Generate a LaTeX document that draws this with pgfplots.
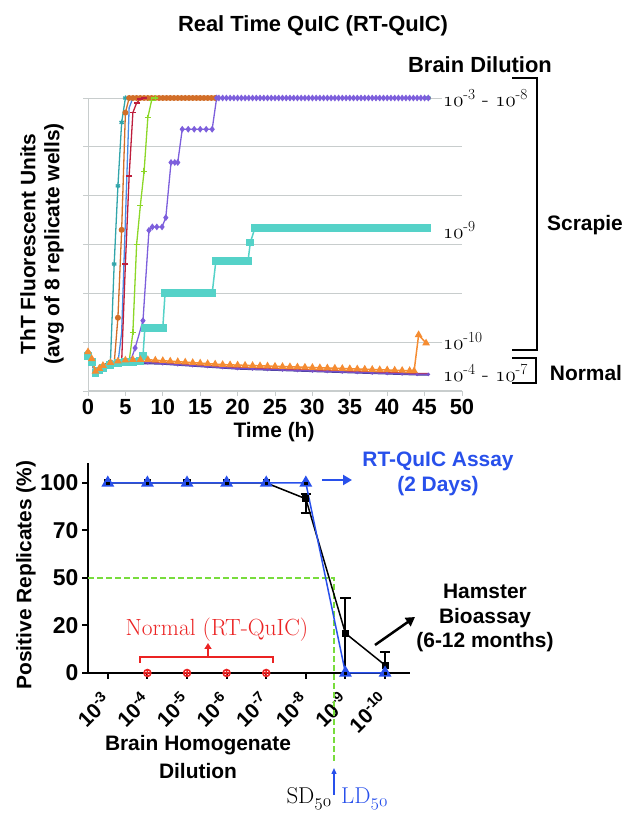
\documentclass[border=0pt]{standalone}
\usepackage{fontspec}
\setsansfont{Liberation Sans}
\usepackage{pgfplots}
\pgfplotsset{compat=1.18}
\usepackage{pgfplotstable}
\usetikzlibrary{arrows.meta}
\newcommand\osn[1]{{\usefont{OML}{cmm}{m}{it}#1}}
\definecolor{cteal}{RGB}{50,165,170}
\definecolor{cbrown}{RGB}{210,110,40}
\definecolor{cblue}{RGB}{70,140,230}
\definecolor{ccrim}{RGB}{190,30,60}
\definecolor{cgreen}{RGB}{140,215,40}
\definecolor{cpurp}{RGB}{125,95,220}
\definecolor{ccyan}{RGB}{85,210,200}
\definecolor{corange}{RGB}{245,140,50}
\definecolor{nnavy}{RGB}{60,60,150}
\definecolor{ngreen}{RGB}{100,170,60}
\definecolor{nred}{RGB}{190,50,70}
\definecolor{npurp}{RGB}{120,80,200}
\definecolor{rtblue}{RGB}{40,80,235}
\definecolor{dgreen}{RGB}{120,220,60}
\definecolor{nred2}{RGB}{235,35,35}
\definecolor{gridgray}{RGB}{200,205,205}

\pgfplotstableread{
t n1 n2 n3 n4
0 0.75 0.77 0.78 0.76
0.5 0.58 0.60 0.62 0.60
1 0.32 0.35 0.36 0.34
1.5 0.38 0.41 0.42 0.40
2 0.44 0.47 0.48 0.46
2.5 0.48 0.51 0.52 0.50
3 0.50 0.53 0.54 0.52
4 0.53 0.56 0.57 0.55
5 0.55 0.58 0.59 0.57
6 0.56 0.59 0.60 0.58
8 0.56 0.59 0.60 0.58
10 0.55 0.57 0.58 0.56
12 0.53 0.55 0.56 0.54
14 0.51 0.53 0.54 0.52
16 0.49 0.51 0.52 0.50
18 0.47 0.49 0.50 0.48
20 0.45 0.47 0.48 0.46
22 0.44 0.46 0.47 0.45
24 0.43 0.45 0.46 0.44
26 0.42 0.44 0.45 0.43
28 0.41 0.43 0.44 0.42
30 0.40 0.42 0.43 0.41
32 0.39 0.41 0.42 0.40
34 0.38 0.40 0.41 0.39
36 0.37 0.39 0.40 0.38
38 0.36 0.38 0.39 0.37
40 0.35 0.37 0.38 0.36
42 0.34 0.36 0.37 0.35
44 0.33 0.35 0.36 0.34
45.5 0.33 0.35 0.355 0.34
}\normals

\begin{document}
\begin{tikzpicture}
\path[use as bounding box] (0bp,0bp) rectangle (638bp,833bp);

% ================= TOP CHART =================
\begin{axis}[at={(88bp,442bp)}, anchor=south west, scale only axis,
  width=374bp, height=293bp, xmin=0, xmax=50, ymin=0, ymax=6,
  axis lines*=left, axis line style={gridgray, line width=1bp},
  xtick={0,5,...,50}, ytick={0,1,...,6}, yticklabels={},
  ymajorgrids, grid style={gridgray, line width=0.9bp},
  tick style={gridgray, line width=0.9bp}, major tick length=5bp, tick align=outside,
  xticklabel style={font=\sffamily\bfseries\fontsize{22}{22}\selectfont},
  /pgf/number format/assume math mode=true, clip=false]
% normal brain (10^-4 - 10^-7)
\addplot[nnavy, line width=1.3bp] table[x=t,y=n1] {\normals};
\addplot[ngreen, line width=1.3bp] table[x=t,y=n2] {\normals};
\addplot[nred, line width=1.3bp] table[x=t,y=n3] {\normals};
\addplot[npurp, line width=1.3bp, mark=*, mark size=1bp] table[x=t,y=n4] {\normals};
% 10^-3
\addplot[cteal, line width=1.3bp, mark=asterisk, mark size=2.5bp] coordinates {
(0,0.78)(0.5,0.62)(1,0.36)(1.5,0.42)(2,0.48)(2.5,0.53)(3,0.6)(3.5,2.6)(4,4.2)(4.5,5.5)(5,6)(45.5,6)};
% 10^-4
\addplot[cbrown, line width=1.3bp, mark=*, mark size=2.3bp] coordinates {
(0,0.78)(0.5,0.62)(1,0.36)(1.5,0.42)(2,0.48)(2.5,0.52)(3,0.54)(3.5,0.56)(4,1.5)(4.5,3.3)(5,5.7)(5.5,6)
(6,6)(6.5,6)(7,6)(7.5,6)(8,6)(8.5,6)(9,6)(9.5,6)(10,6)(10.5,6)(11,6)(11.5,6)(12,6)(12.5,6)(13,6)(13.5,6)
(14,6)(14.5,6)(15,6)(15.5,6)(16,6)(16.5,6)(17,6)};
% 10^-5
\addplot[cblue, line width=1.3bp] coordinates {
(0,0.78)(0.5,0.62)(1,0.36)(1.5,0.42)(2,0.48)(3,0.54)(4,0.57)(4.5,1.2)(5,3.5)(5.5,5.8)(6,6)(45.5,6)};
% 10^-6
\addplot[ccrim, line width=1.3bp, mark=-, mark size=3bp] coordinates {
(0,0.78)(0.5,0.62)(1,0.36)(1.5,0.42)(2,0.48)(3,0.54)(4,0.57)(4.5,0.6)(5,2.6)(5.5,4.4)(6,5.7)(6.5,5.9)(7,5.98)(7.5,6)(45.5,6)};
% 10^-7
\addplot[cgreen, line width=1.3bp, mark=+, mark size=3bp] coordinates {
(0,0.78)(0.5,0.62)(1,0.36)(1.5,0.42)(2,0.48)(3,0.54)(4,0.57)(5,0.59)(5.5,0.6)(6,1.2)(6.5,3.0)(7,3.8)(7.5,4.5)(8,5.6)(8.5,5.95)(9,6)(45.5,6)};
% 10^-8
\addplot[cpurp, line width=1.3bp, mark=diamond*, mark size=2.4bp] coordinates {
(0,0.78)(0.5,0.62)(1,0.36)(1.5,0.42)(2,0.48)(3,0.54)(4,0.57)(5,0.59)(5.7,0.62)(6.3,0.88)(7.35,1.44)
(8.15,3.29)(8.6,3.36)(9.2,3.36)(9.9,3.36)(10.4,3.55)(11.1,4.68)(11.6,4.68)(12.0,4.68)
(12.6,5.36)(13.4,5.36)(14.2,5.36)(15.0,5.36)(15.8,5.36)(16.6,5.36)(17.2,6)
(17.5,6)(18,6)(18.5,6)(19,6)(19.5,6)(20,6)(20.5,6)(21,6)(21.5,6)(22,6)(22.5,6)(23,6)(23.5,6)(24,6)
(24.5,6)(25,6)(25.5,6)(26,6)(26.5,6)(27,6)(27.5,6)(28,6)(28.5,6)(29,6)(29.5,6)(30,6)(30.5,6)(31,6)
(31.5,6)(32,6)(32.5,6)(33,6)(33.5,6)(34,6)(34.5,6)(35,6)(35.5,6)(36,6)(36.5,6)(37,6)(37.5,6)(38,6)
(38.5,6)(39,6)(39.5,6)(40,6)(40.5,6)(41,6)(41.5,6)(42,6)(42.5,6)(43,6)(43.5,6)(44,6)(44.5,6)(45,6)(45.5,6)};
% 10^-9
\addplot[ccyan, line width=1.5bp, mark=square*, mark size=3.2bp] coordinates {
(0,0.72)(0.5,0.60)(1,0.36)(1.5,0.42)(2,0.48)(3,0.54)(4,0.57)(5,0.59)(6,0.60)(7,0.62)(7.35,0.72)
(7.6,1.29)(8.0,1.29)(8.5,1.29)(9.0,1.29)(9.5,1.29)(10.0,1.29)
(10.3,2.0)(10.8,2.0)(11.3,2.0)(11.8,2.0)(12.3,2.0)(12.8,2.0)(13.3,2.0)(13.8,2.0)(14.3,2.0)(14.8,2.0)
(15.3,2.0)(15.8,2.0)(16.3,2.0)(16.6,2.0)
(17.1,2.67)(17.6,2.67)(18.1,2.67)(18.6,2.67)(19.1,2.67)(19.6,2.67)(20.1,2.67)(20.6,2.67)(21.1,2.67)(21.4,2.67)
(21.7,3.04)
(22.3,3.33)(22.8,3.33)(23.3,3.33)(23.8,3.33)(24.3,3.33)(24.8,3.33)(25.3,3.33)(25.8,3.33)(26.3,3.33)
(26.8,3.33)(27.3,3.33)(27.8,3.33)(28.3,3.33)(28.8,3.33)(29.3,3.33)(29.8,3.33)(30.3,3.33)(30.8,3.33)
(31.3,3.33)(31.8,3.33)(32.3,3.33)(32.8,3.33)(33.3,3.33)(33.8,3.33)(34.3,3.33)(34.8,3.33)(35.3,3.33)
(35.8,3.33)(36.3,3.33)(36.8,3.33)(37.3,3.33)(37.8,3.33)(38.3,3.33)(38.8,3.33)(39.3,3.33)(39.8,3.33)
(40.3,3.33)(40.8,3.33)(41.3,3.33)(41.8,3.33)(42.3,3.33)(42.8,3.33)(43.3,3.33)(43.8,3.33)(44.3,3.33)
(44.8,3.33)(45.3,3.33)};
% 10^-10
\addplot[corange, line width=1.5bp, mark=triangle*, mark size=3bp] coordinates {
(0,0.80)(0.5,0.66)(1,0.40)(1.5,0.46)(2,0.52)(3,0.58)(4,0.61)(5,0.63)(6,0.64)(7,0.64)(8,0.64)(9,0.63)
(10,0.62)(11,0.61)(12,0.60)(13,0.59)(14,0.58)(15,0.57)(16,0.56)(17,0.55)(18,0.54)(19,0.535)(20,0.53)
(21,0.525)(22,0.52)(23,0.515)(24,0.51)(25,0.505)(26,0.50)(27,0.495)(28,0.49)(29,0.485)(30,0.48)
(31,0.475)(32,0.47)(33,0.465)(34,0.46)(35,0.455)(36,0.45)(37,0.445)(38,0.44)(39,0.435)(40,0.43)
(41,0.425)(42,0.42)(43,0.415)(43.6,0.41)(44.2,1.15)(45.2,0.98)};
\end{axis}

% top annotations
\node[font=\sffamily\bfseries\fontsize{22}{26}\selectfont] at (313bp,807bp) {Real Time QuIC (RT-QuIC)};
\node[font=\sffamily\bfseries\fontsize{22}{26}\selectfont] at (480bp,768bp) {Brain Dilution};
\node[font=\sffamily\bfseries\fontsize{21}{24}\selectfont, rotate=90, align=center] at (42bp,589bp)
  {ThT Fluorescent Units\\(avg of 8 replicate wells)};
\node[font=\sffamily\bfseries\fontsize{21}{25}\selectfont] at (274bp,401bp) {Time (h)};
\begin{scope}[every node/.style={font=\fontsize{22}{26}\selectfont, anchor=west, fill=white, inner sep=1bp}]
\node at (442bp,735bp) {\osn{10}\textsuperscript{-3} - \osn{10}\textsuperscript{-8}};
\node at (442bp,603bp) {\osn{10}\textsuperscript{-9}};
\node at (442bp,492bp) {\osn{10}\textsuperscript{-10}};
\node at (442bp,460bp) {\osn{10}\textsuperscript{-4} - \osn{10}\textsuperscript{-7}};
\end{scope}
\draw[line width=2.5bp] (512bp,755bp) -- (537bp,755bp) -- (537bp,483bp) -- (512bp,483bp);
\draw[line width=2.5bp] (512bp,475bp) -- (536bp,475bp) -- (536bp,450bp) -- (512bp,450bp);
\node[font=\sffamily\bfseries\fontsize{21}{25}\selectfont] at (585bp,608bp) {Scrapie};
\node[font=\sffamily\bfseries\fontsize{21}{25}\selectfont] at (586bp,460bp) {Normal};

% ================= BOTTOM CHART =================
\begin{axis}[at={(88bp,160bp)}, anchor=south west, scale only axis,
  width=322bp, height=210bp, xmin=-0.5, xmax=7.63, ymin=0, ymax=112.6,
  y coord trafo/.code={\pgfmathparse{(#1<=20)*(#1/20)+(#1>20)*(#1<=50)*(1+(#1-20)/30)+(#1>50)*(#1<=70)*(2+(#1-50)/20)+(#1>70)*(3+(#1-70)/30)}},
  y coord inv trafo/.code={\pgfmathparse{(#1<=1)*(#1*20)+(#1>1)*(#1<=2)*(20+(#1-1)*30)+(#1>2)*(#1<=3)*(50+(#1-2)*20)+(#1>3)*(70+(#1-3)*30)}},
  axis lines*=left, axis line style={black, line width=2bp},
  tick style={black, line width=2bp}, major tick length=6bp, tick align=outside,
  xtick={0,...,7},
  xticklabels={10\textsuperscript{-3},10\textsuperscript{-4},10\textsuperscript{-5},10\textsuperscript{-6},10\textsuperscript{-7},10\textsuperscript{-8},10\textsuperscript{-9},10\textsuperscript{-10}},
  xticklabel style={font=\sffamily\bfseries\fontsize{21}{21}\selectfont, rotate=45, anchor=north east, inner sep=1bp, xshift=-12bp, yshift=-1bp},
  ytick={0,20,50,70,100}, yticklabels={0,20,50,70,100},
  yticklabel style={font=\sffamily\bfseries\fontsize{23}{23}\selectfont},
  clip=false]
% 50% guide
\addplot[dgreen, line width=1.3bp, dash pattern=on 6bp off 3bp] coordinates {(-0.5,50)(5.71,50)(5.71,-37.9)};
% hamster bioassay: error bars
\addplot[black, line width=2bp, forget plot] coordinates {(5,81)(5,93)};
\addplot[black, line width=2bp, forget plot] coordinates {(4.87,93)(5.13,93)};
\addplot[black, line width=2bp, forget plot] coordinates {(4.87,81)(5.13,81)};
\addplot[black, line width=2bp, forget plot] coordinates {(6,0)(6,37.5)};
\addplot[black, line width=2bp, forget plot] coordinates {(5.87,37.5)(6.13,37.5)};
\addplot[black, line width=2bp, forget plot] coordinates {(7,0)(7,8.8)};
\addplot[black, line width=2bp, forget plot] coordinates {(6.87,8.8)(7.13,8.8)};
% hamster bioassay: means
\addplot[black, line width=1.5bp, mark=square*, mark size=2.8bp]
  coordinates {(0,100)(1,100)(2,100)(3,100)(4,100)(5,90)(6,16.7)(7,3.3)};
% RT-QuIC
\addplot[rtblue, line width=1.5bp, mark=triangle*, mark size=6bp]
  coordinates {(0,100)(1,100)(2,100)(3,100)(4,100)(5,100)(6,0)(7,0)};
\addplot[only marks, black, mark=square*, mark size=1.2bp]
  coordinates {(0,100)(1,100)(2,100)(3,100)(4,100)(5,100)(6,0)(7,0)};
% normal brain RT-QuIC
\addplot[only marks, nred2, mark=oplus, mark size=3.5bp, mark options={line width=1.5bp}]
  coordinates {(1,0)(2,0)(3,0)(4,0)};
\end{axis}

% bottom annotations
\node[font=\sffamily\bfseries\fontsize{21}{25}\selectfont, rotate=90] at (26bp,258bp) {Positive Replicates (\%)};
\node[font=\sffamily\bfseries\fontsize{21}{29}\selectfont, align=center] at (198bp,76bp) {Brain Homogenate\\Dilution};
\draw[rtblue, line width=2.5bp, -{Triangle[length=9bp,width=10bp]}] (322bp,353bp) -- (352bp,353bp);
\node[rtblue, font=\sffamily\bfseries\fontsize{21}{25}\selectfont, align=center] at (438bp,359bp) {RT-QuIC Assay\\(2 Days)};
\draw[black, line width=2.5bp, -{Triangle[length=9bp,width=10bp]}] (375bp,188bp) -- (415bp,216bp);
\node[font=\sffamily\bfseries\fontsize{21}{25}\selectfont, align=center] at (485bp,215bp) {Hamster\\Bioassay\\(6-12 months)};
\node[nred2, font=\fontsize{23.5}{28}\selectfont] at (217bp,203bp) {Normal (RT-QuIC)};
\draw[nred2, line width=1.5bp] (140bp,170bp) -- (140bp,176bp) -- (273bp,176bp) -- (273bp,170bp);
\draw[nred2, line width=1.5bp, -{Triangle[length=6bp,width=7bp]}] (208bp,176bp) -- (208bp,190bp);
\draw[rtblue, line width=1.3bp, -{Triangle[length=6bp,width=5bp]}] (334bp,38bp) -- (334bp,65bp);
\node[font=\fontsize{23}{27}\selectfont, anchor=base east, inner sep=1bp] at (333bp,30bp) {SD\textsubscript{\osn{50}}};
\node[rtblue, font=\fontsize{23}{27}\selectfont, anchor=base west, inner sep=1bp] at (340bp,30bp) {LD\textsubscript{\osn{50}}};
\end{tikzpicture}
\end{document}
